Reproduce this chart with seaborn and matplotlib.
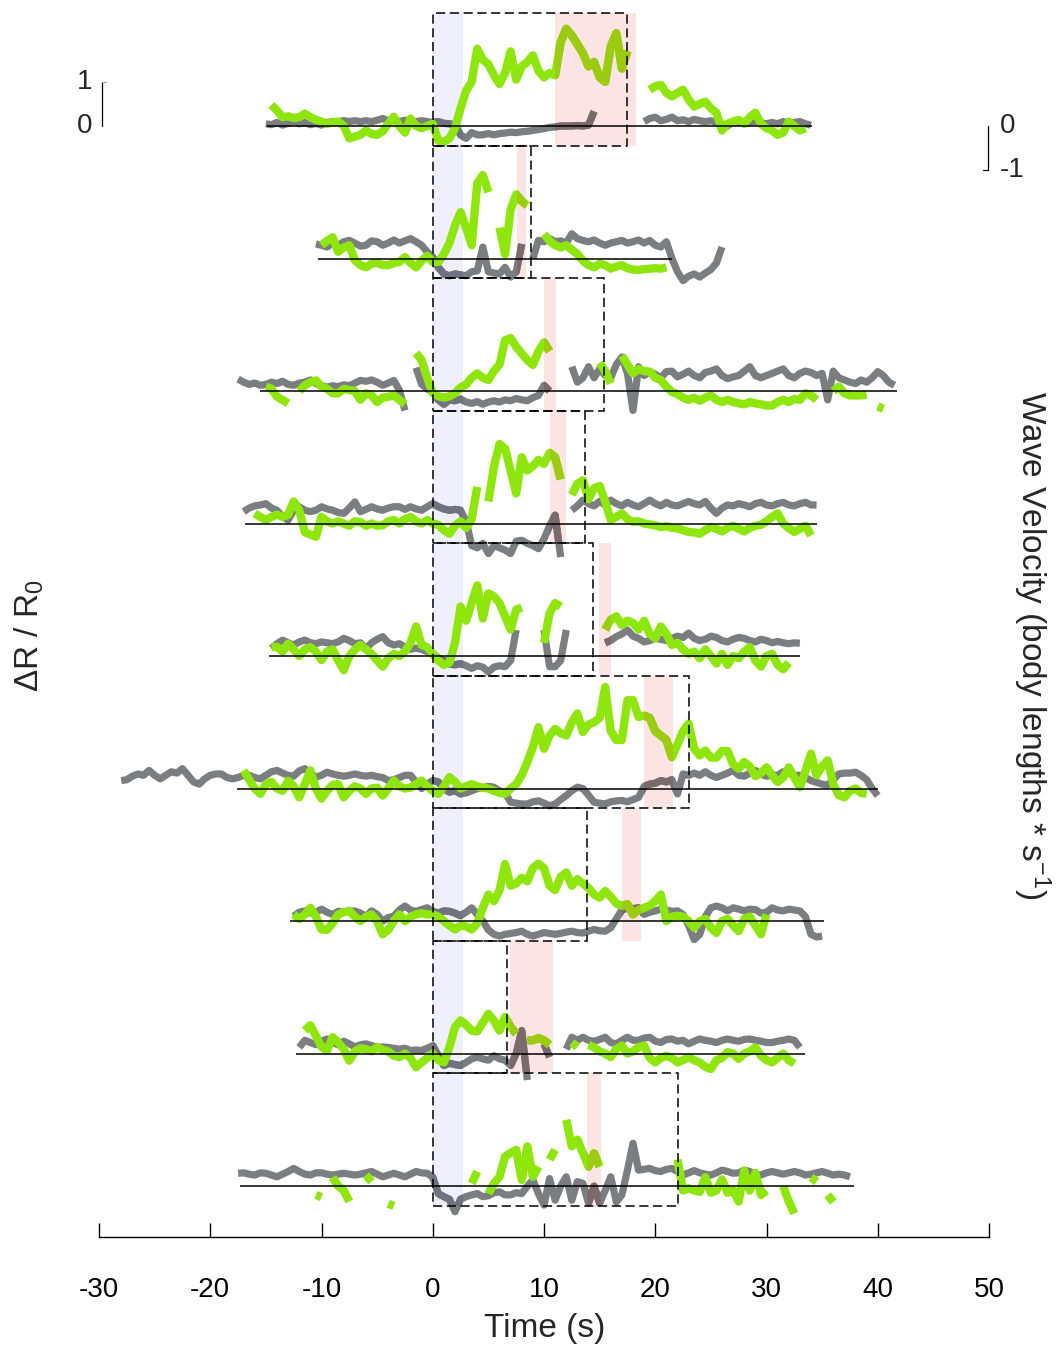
import numpy as np
import pandas as pd
import matplotlib
matplotlib.use("Agg")
import matplotlib.pyplot as plt
from matplotlib.patches import Rectangle
import seaborn as sns

sns.set_theme(style="white")
plt.rcParams['font.family'] = ['Liberation Sans', 'DejaVu Sans']
plt.rcParams['mathtext.default'] = 'regular'
plt.rcParams['axes.unicode_minus'] = False

nan = np.nan
dt = 0.5  # sampling step of every trace (s)

# ---------------- data (9 trials, top to bottom) ----------------
# dR/R0 (green) and wave velocity (gray), sampled every 0.5 s from the start time
g0_t0 = -14.5
g0 = [0.48, 0.35, 0.20, 0.22, 0.18, 0.20, 0.28, 0.20, 0.14, 0.10,
      0.05, 0.08, 0.10, 0.00, -0.28, -0.24, -0.20, -0.10, -0.18, -0.20,
      -0.12, 0.05, 0.21, 0.00, -0.15, 0.17, 0.00, -0.05, 0.00, 0.05,
      -0.33, -0.36, -0.28, -0.05, 0.40, 0.80, 1.00, 1.75, 1.50, 1.40,
      1.15, 0.95, 1.20, 1.69, 1.05, 1.35, 1.45, 1.60, 1.25, 1.10,
      1.20, 1.15, 1.90, 2.20, 2.05, 1.85, 1.65, 1.35, 1.45, 1.10,
      1.00, 1.80, 2.10, 1.30, 1.70, nan, nan, nan, 0.82, 0.90,
      0.93, 0.75, 0.67, 0.75, 0.82, 0.60, 0.44, 0.50, 0.55, 0.40,
      0.30, -0.10, 0.05, 0.10, 0.14, 0.05, 0.20, 0.30, 0.05, -0.05,
      -0.10, -0.20, -0.15, 0.10, 0.00, -0.10, -0.05]
v0_t0 = -15.0
v0 = [0.05, 0.03, 0.08, 0.02, 0.06, 0.10, 0.05, 0.08, 0.03, 0.06,
      0.02, 0.08, 0.10, 0.10, 0.12, 0.10, 0.12, 0.10, 0.12, 0.10,
      0.13, 0.17, 0.12, 0.15, 0.10, 0.13, 0.10, 0.10, 0.12, 0.10,
      0.08, 0.10, 0.06, 0.05, 0.02, -0.20, -0.28, -0.15, -0.20, -0.20,
      -0.17, -0.20, -0.17, -0.16, -0.14, -0.15, -0.13, -0.12, -0.10, -0.08,
      -0.06, -0.03, -0.02, 0.00, 0.00, 0.00, 0.01, 0.00, 0.02, 0.33,
      nan, nan, nan, nan, nan, nan, nan, nan, 0.10, 0.17,
      0.20, 0.12, 0.15, 0.20, 0.12, 0.14, 0.10, 0.15, 0.12, 0.10,
      0.12, 0.08, 0.05, 0.00, 0.10, 0.08, 0.05, 0.08, 0.10, 0.07,
      0.05, 0.08, 0.05, 0.10, 0.05, 0.08, 0.10, 0.05, 0.02]

g1_t0 = -10.0
g1 = [0.30, 0.40, 0.48, 0.15, 0.25, 0.30, -0.04, -0.15, -0.20, -0.12,
      -0.10, -0.15, -0.15, -0.10, -0.08, 0.03, -0.10, -0.20, -0.05, 0.06,
      -0.08, -0.08, 0.10, 0.35, 0.75, 1.05, 0.70, 0.30, 1.70, 1.89,
      1.50, nan, 0.70, 0.10, 1.10, 1.45, 1.30, 1.20, nan, nan,
      0.55, 0.40, 0.30, 0.25, 0.30, 0.20, 0.10, -0.05, -0.15, -0.20,
      -0.12, -0.15, -0.23, -0.18, -0.15, -0.22, -0.25, -0.26, -0.24, -0.23,
      -0.22, -0.23, -0.20]
v1_t0 = -10.5
v1 = [0.33, 0.30, 0.26, 0.35, 0.30, 0.38, 0.41, 0.35, 0.28, 0.30,
      0.40, 0.38, 0.30, 0.35, 0.42, 0.35, 0.40, 0.45, 0.38, 0.30,
      0.15, 0.03, -0.20, -0.35, -0.39, -0.35, -0.37, -0.39, -0.30, -0.28,
      0.26, -0.30, -0.33, -0.35, -0.20, -0.42, -0.30, 0.33, nan, 0.00,
      0.41, 0.38, 0.45, 0.38, 0.40, 0.35, 0.56, 0.45, 0.41, 0.38,
      0.42, 0.35, 0.30, 0.35, 0.38, 0.41, 0.35, 0.38, 0.42, 0.35,
      0.41, 0.30, 0.26, 0.38, 0.00, -0.30, -0.50, -0.40, -0.35, -0.42,
      -0.33, -0.25, -0.10, 0.26]

g2_t0 = -15.0
g2 = [0.10, 0.05, -0.13, -0.20, -0.28, nan, 0.00, 0.13, 0.20, 0.24,
      0.10, 0.05, -0.05, -0.05, 0.05, 0.02, 0.00, -0.20, -0.05, -0.10,
      -0.25, -0.15, -0.13, -0.10, -0.20, -0.30, nan, 0.86, 0.70, 0.30,
      -0.05, -0.12, -0.15, -0.12, -0.05, 0.08, 0.15, 0.30, 0.40, 0.30,
      0.25, 0.45, 0.60, 1.15, 1.20, 1.00, 0.85, 0.70, 0.59, 0.90,
      1.10, 0.90, nan, nan, nan, nan, nan, nan, nan, nan,
      0.64, 0.45, 0.17, nan, 0.80, 0.60, 0.40, 0.50, 0.45, 0.44,
      0.30, 0.25, 0.10, -0.02, -0.07, -0.15, -0.20, -0.15, -0.22, -0.15,
      -0.10, -0.20, -0.25, -0.20, -0.25, -0.28, -0.30, -0.25, -0.28, -0.30,
      -0.33, -0.33, -0.25, -0.20, -0.25, -0.18, -0.20, -0.05, -0.10, -0.20,
      nan, nan, 0.00, 0.10, -0.05, -0.10, -0.10, -0.10, -0.08, nan, -0.35, -0.40]
v2_t0 = -17.5
v2 = [0.27, 0.20, 0.15, 0.18, 0.13, 0.15, 0.20, 0.17, 0.22, 0.15,
      0.13, 0.18, 0.20, 0.25, 0.17, 0.12, 0.09, 0.12, 0.10, 0.14,
      0.12, 0.18, 0.24, 0.22, 0.25, 0.20, 0.13, 0.18, 0.24, 0.02,
      -0.44, nan, 0.53, 0.15, 0.05, -0.03, -0.20, -0.30, -0.20, -0.22,
      -0.18, -0.25, -0.28, -0.24, -0.30, -0.25, -0.22, -0.25, -0.20, -0.22,
      -0.17, -0.20, -0.22, -0.15, -0.10, 0.13, 0.00, nan, nan, nan,
      0.55, 0.20, 0.30, 0.55, 0.30, 0.50, 0.35, 0.30, 0.60, 0.77,
      0.40, -0.44, 0.55, 0.35, 0.44, 0.38, 0.30, 0.44, 0.45, 0.32,
      0.38, 0.45, 0.35, 0.30, 0.42, 0.45, 0.50, 0.35, 0.28, 0.32,
      0.35, 0.45, 0.55, 0.35, 0.30, 0.35, 0.40, 0.45, 0.50, 0.35,
      0.30, 0.40, 0.45, 0.42, 0.35, 0.40, -0.20, 0.45, 0.30, 0.25,
      0.20, 0.17, 0.25, 0.20, 0.30, 0.44, 0.35, 0.20, 0.13]

g3_t0 = -16.0
g3 = [0.23, 0.15, 0.08, 0.15, 0.20, 0.15, 0.20, 0.50, 0.30, -0.20,
      -0.25, -0.30, 0.15, 0.05, 0.00, 0.05, 0.00, -0.05, 0.05, 0.03,
      -0.05, 0.00, -0.05, -0.04, 0.05, 0.08, 0.00, 0.10, 0.15, 0.05,
      0.00, 0.08, 0.00, -0.03, -0.15, -0.23, -0.05, 0.05, -0.10, 0.10,
      0.83, nan, 0.50, 1.29, 1.80, 1.70, 1.20, 0.68, 1.50, 1.20,
      1.30, 1.44, 1.35, 1.60, 1.50, 1.00, nan, 0.65, 0.90, 0.98,
      0.55, 0.80, 0.85, 0.50, 0.08, 0.15, 0.23, 0.10, 0.04, 0.05,
      0.00, -0.02, -0.04, -0.08, -0.06, -0.10, -0.11, -0.15, -0.19, -0.20,
      -0.23, -0.15, -0.08, -0.12, -0.18, -0.10, -0.05, -0.12, -0.18, -0.10,
      -0.05, -0.03, 0.05, 0.15, 0.23, 0.00, -0.10, -0.19, -0.12, -0.05, -0.27]
v3_t0 = -17.0
v3 = [0.27, 0.35, 0.40, 0.42, 0.45, 0.35, 0.30, 0.15, 0.08, 0.30,
      0.38, 0.30, 0.27, 0.30, 0.38, 0.33, 0.30, 0.25, 0.23, 0.35,
      0.49, 0.27, 0.32, 0.38, 0.33, 0.30, 0.35, 0.38, 0.38, 0.32,
      0.38, 0.33, 0.30, 0.38, 0.45, 0.38, 0.33, 0.30, 0.32, 0.30,
      0.05, -0.50, -0.55, -0.45, -0.68, -0.50, -0.55, -0.60, -0.68, -0.40,
      -0.38, -0.45, -0.50, -0.57, -0.35, -0.05, 0.19, -0.76, nan, 0.30,
      0.40, 0.53, 0.45, 0.40, 0.50, 0.42, 0.53, 0.45, 0.40, 0.48,
      0.42, 0.38, 0.45, 0.53, 0.45, 0.40, 0.48, 0.42, 0.40, 0.45,
      0.50, 0.45, 0.42, 0.50, 0.35, 0.23, 0.35, 0.42, 0.40, 0.45,
      0.42, 0.38, 0.45, 0.48, 0.42, 0.40, 0.45, 0.48, 0.42, 0.40,
      0.45, 0.48, 0.42, 0.42]

g4_t0 = -14.5
g4 = [0.20, 0.21, 0.10, 0.28, 0.15, 0.00, 0.15, 0.20, 0.10, -0.09,
      0.10, 0.15, -0.10, -0.32, 0.00, 0.15, 0.25, 0.15, 0.05, -0.10,
      -0.24, -0.05, 0.05, 0.00, 0.10, 0.30, 0.67, 0.25, 0.20, 0.05,
      -0.10, -0.20, -0.15, 0.30, 1.12, 0.80, 1.20, 1.60, 0.85, 1.42,
      1.35, 1.20, 0.90, 0.60, 1.05, 1.10, nan, nan, nan, 0.30,
      0.97, 1.20, 1.12, nan, nan, nan, nan, nan, nan, nan,
      0.60, 0.82, 0.90, 0.70, 0.80, 0.75, 0.60, 0.80, 0.50, 0.40,
      0.67, 0.50, 0.25, 0.30, 0.15, 0.05, 0.10, -0.05, 0.15, 0.00,
      -0.17, 0.05, -0.20, 0.00, -0.05, 0.10, 0.20, -0.10, -0.24, 0.00,
      0.05, -0.20, -0.30, -0.15]
v4_t0 = -14.5
v4 = [0.17, 0.28, 0.36, 0.30, 0.25, 0.32, 0.36, 0.30, 0.28, 0.32,
      0.30, 0.28, 0.32, 0.40, 0.35, 0.28, 0.30, 0.17, 0.30, 0.38,
      0.44, 0.30, 0.25, 0.28, 0.20, 0.15, 0.18, 0.15, 0.10, 0.05,
      -0.05, -0.10, -0.18, -0.20, -0.17, -0.22, -0.28, -0.22, -0.25, -0.36,
      -0.25, -0.22, -0.24, -0.10, 0.59, nan, nan, nan, nan, 0.59,
      -0.24, -0.24, -0.10, 0.59, nan, nan, nan, nan, nan, nan,
      0.30, 0.35, 0.44, 0.50, 0.59, 0.45, 0.40, 0.32, 0.35, 0.40,
      0.38, 0.35, 0.40, 0.45, 0.42, 0.52, 0.40, 0.35, 0.38, 0.45,
      0.42, 0.35, 0.32, 0.38, 0.42, 0.40, 0.35, 0.32, 0.38, 0.35,
      0.30, 0.33, 0.30, 0.28, 0.30, 0.29]

g5_t0 = -17.0
g5 = [0.41, 0.20, 0.00, -0.12, 0.10, 0.15, 0.00, -0.05, 0.18, 0.05,
      -0.20, 0.10, 0.41, 0.00, -0.23, -0.05, 0.08, 0.10, -0.20, -0.05,
      0.05, 0.00, -0.12, 0.00, 0.02, -0.16, 0.00, 0.18, 0.05, 0.00,
      0.02, 0.10, 0.18, 0.05, -0.05, -0.12, 0.05, 0.26, 0.15, 0.00,
      0.05, 0.10, 0.05, 0.02, 0.00, -0.05, -0.10, -0.12, 0.00, 0.10,
      0.30, 0.60, 0.94, 1.39, 0.90, 1.20, 1.35, 1.25, 1.20, 1.50,
      1.70, 1.28, 1.45, 1.50, 1.60, 2.30, 1.30, 1.10, 1.10, 2.00,
      2.00, 1.62, 1.65, 1.60, 1.30, 1.20, 1.10, 0.71, 1.00, 1.30,
      1.47, 0.90, 0.75, 0.86, 0.70, 0.70, 0.85, 0.85, 0.55, 0.45,
      0.60, 0.50, 0.28, 0.35, 0.48, 0.30, 0.15, 0.25, 0.48, 0.25,
      0.03, 0.40, 0.79, 0.30, 0.50, 0.64, 0.10, -0.15, -0.20, -0.05,
      0.00, -0.10, -0.12]
v5_t0 = -28.0
v5 = [0.18, 0.20, 0.28, 0.33, 0.30, 0.41, 0.30, 0.22, 0.30, 0.38,
      0.35, 0.45, 0.30, 0.15, 0.10, 0.22, 0.30, 0.33, 0.33, 0.25,
      0.22, 0.25, 0.30, 0.30, 0.25, 0.22, 0.30, 0.38, 0.41, 0.35,
      0.30, 0.28, 0.40, 0.45, 0.35, 0.26, 0.30, 0.37, 0.33, 0.30,
      0.28, 0.30, 0.33, 0.30, 0.28, 0.30, 0.27, 0.25, 0.18, 0.20,
      0.25, 0.30, 0.30, 0.15, 0.00, 0.10, 0.18, 0.15, 0.00, -0.08,
      -0.05, -0.12, -0.10, -0.05, 0.00, 0.02, 0.05, 0.03, -0.05, -0.10,
      -0.31, -0.33, -0.35, -0.35, -0.30, -0.28, -0.33, -0.39, -0.35, -0.25,
      -0.16, -0.05, 0.03, 0.00, -0.15, -0.31, -0.33, -0.35, -0.30, -0.28,
      -0.27, -0.30, -0.25, -0.20, 0.05, 0.10, 0.12, 0.18, 0.15, 0.20,
      -0.12, 0.33, 0.30, 0.35, 0.30, 0.38, 0.30, 0.25, 0.30, 0.35,
      0.41, 0.30, 0.28, 0.35, 0.41, 0.33, 0.28, 0.30, 0.30, 0.38,
      0.35, 0.30, 0.30, 0.25, 0.18, 0.14, 0.10, 0.08, 0.20, 0.33,
      0.35, 0.35, 0.37, 0.30, 0.20, 0.00, -0.16]

g6_t0 = -12.5
g6 = [0.15, 0.05, 0.15, 0.30, 0.10, -0.19, -0.20, -0.05, 0.15, 0.20,
      0.23, 0.10, 0.00, 0.10, 0.15, 0.00, -0.30, -0.20, 0.00, 0.15,
      0.00, 0.10, 0.15, 0.18, 0.15, 0.15, 0.10, 0.00, -0.10, -0.19,
      -0.10, -0.12, -0.19, -0.05, 0.30, 0.60, 0.45, 0.70, 1.29, 0.80,
      0.85, 0.98, 0.90, 1.20, 1.30, 1.20, 0.80, 0.70, 1.00, 1.10,
      0.80, 0.95, 0.85, 0.75, 0.60, 0.53, 0.68, 0.55, 0.40, 0.35,
      0.38, 0.15, 0.25, 0.30, 0.35, 0.45, 0.60, 0.00, 0.10, 0.12,
      0.10, 0.00, -0.15, 0.00, 0.05, -0.15, -0.27, 0.00, 0.05, -0.10,
      -0.23, 0.05, 0.10, -0.10, -0.30, 0.15]
v6_t0 = -12.5
v6 = [0.11, 0.20, 0.23, 0.18, 0.20, 0.27, 0.20, 0.15, 0.22, 0.20,
      0.22, 0.23, 0.18, 0.11, 0.23, 0.15, 0.00, 0.08, 0.11, 0.25,
      0.34, 0.25, 0.22, 0.26, 0.30, 0.22, 0.18, 0.23, 0.22, 0.18,
      0.12, 0.20, 0.30, 0.15, 0.00, -0.20, -0.30, -0.34, -0.30, -0.28,
      -0.26, -0.23, -0.30, -0.34, -0.30, -0.26, -0.28, -0.30, -0.28, -0.25,
      -0.23, -0.26, -0.27, -0.23, -0.19, -0.22, -0.23, -0.15, 0.05, 0.25,
      0.30, 0.28, 0.30, 0.15, 0.20, 0.23, 0.27, 0.25, 0.22, 0.23,
      0.15, -0.10, -0.42, -0.30, 0.10, 0.30, 0.34, 0.30, 0.23, 0.30,
      0.27, 0.23, 0.27, 0.26, 0.18, 0.20, 0.30, 0.25, 0.23, 0.27,
      0.25, 0.23, 0.10, -0.30, -0.36, -0.34]

g7_t0 = -11.5
g7 = [0.52, 0.64, 0.40, 0.15, 0.07, 0.37, 0.25, 0.10, -0.16, 0.05,
      0.12, 0.10, 0.05, 0.15, 0.08, 0.05, -0.05, -0.08, 0.00, -0.10,
      -0.31, -0.20, -0.10, 0.00, -0.15, -0.20, 0.14, 0.60, 0.75, 0.65,
      0.52, 0.50, 0.70, 0.90, 0.75, 0.52, 0.83, 0.60, 0.45, nan,
      0.30, 0.30, 0.35, 0.30, 0.20, nan, nan, nan, 0.25, 0.15,
      nan, 0.20, 0.14, 0.05, 0.00, -0.08, 0.10, 0.18, 0.00, 0.05,
      0.15, 0.18, -0.10, -0.20, -0.10, -0.05, -0.10, -0.20, -0.15, -0.08,
      -0.15, -0.20, -0.30, -0.35, -0.15, -0.10, 0.03, 0.00, -0.12, 0.00,
      0.05, 0.14, -0.05, -0.15, -0.20, -0.10, 0.00, -0.15, -0.23]
v7_t0 = -12.0
v7 = [0.14, 0.30, 0.25, 0.20, 0.28, 0.33, 0.25, 0.20, 0.28, 0.22,
      0.15, 0.20, 0.22, 0.18, 0.14, 0.15, 0.14, 0.12, 0.10, 0.12,
      0.07, 0.08, 0.07, 0.12, 0.18, -0.05, -0.27, -0.22, -0.25, -0.27,
      -0.20, -0.12, -0.08, -0.12, -0.15, -0.05, -0.12, -0.15, -0.27, 0.00,
      0.52, -0.60, nan, nan, 0.22, -0.08, nan, nan, 0.10, 0.37,
      0.30, 0.37, 0.30, 0.28, 0.32, 0.37, 0.25, 0.22, 0.30, 0.37,
      0.30, 0.30, 0.35, 0.37, 0.28, 0.25, 0.32, 0.33, 0.28, 0.30,
      0.22, 0.28, 0.33, 0.30, 0.28, 0.25, 0.30, 0.33, 0.30, 0.28,
      0.32, 0.33, 0.30, 0.28, 0.25, 0.25, 0.28, 0.30, 0.33, 0.30,
      0.14]

g8_t0 = -10.5
g8 = [-0.20, -0.25, nan, 0.20, 0.00, -0.10, -0.35, nan, nan, 0.25,
      0.10, nan, nan, -0.40, -0.45, nan, nan, nan, nan, nan,
      nan, nan, nan, nan, nan, nan, nan, nan, 0.06, 0.33,
      nan, -0.17, 0.06, 0.21, 0.67, 0.75, 0.82, 0.14, 0.90, 0.21,
      0.44, nan, 0.60, 0.82, nan, 1.50, 0.90, 1.05, 0.75, 0.44,
      0.74, 0.44, nan, nan, nan, nan, nan, nan, nan, nan,
      nan, nan, nan, nan, nan, 0.60, -0.10, -0.05, -0.10, -0.13,
      0.20, -0.15, -0.10, 0.15, -0.15, -0.10, -0.35, 0.35, -0.10, 0.30,
      -0.20, -0.10, nan, nan, 0.00, -0.35, -0.62, nan, nan, 0.20,
      0.10, nan, -0.20, -0.36]
v8_t0 = -17.5
v8 = [0.29, 0.30, 0.27, 0.25, 0.30, 0.29, 0.25, 0.21, 0.27, 0.33,
      0.40, 0.33, 0.27, 0.25, 0.30, 0.30, 0.27, 0.25, 0.27, 0.29,
      0.27, 0.25, 0.27, 0.30, 0.33, 0.27, 0.21, 0.25, 0.29, 0.25,
      0.21, 0.27, 0.33, 0.30, 0.29, 0.20, -0.17, -0.24, -0.30, -0.58,
      -0.30, -0.24, -0.20, -0.17, -0.24, -0.22, -0.15, -0.13, -0.20, -0.20,
      -0.15, -0.17, 0.00, 0.14, -0.17, -0.43, 0.17, -0.32, 0.00, 0.21,
      -0.32, 0.10, 0.06, -0.39, 0.00, -0.39, -0.10, 0.21, -0.36, -0.20,
      0.36, 0.97, 0.36, 0.38, 0.40, 0.35, 0.33, 0.38, 0.40, 0.33,
      0.25, 0.30, 0.35, 0.30, 0.27, 0.25, 0.30, 0.36, 0.33, 0.29,
      0.30, 0.36, 0.33, 0.27, 0.25, 0.30, 0.33, 0.30, 0.27, 0.30,
      0.33, 0.30, 0.25, 0.27, 0.30, 0.33, 0.29, 0.25, 0.27, 0.25, 0.21]

green = [g0, g1, g2, g3, g4, g5, g6, g7, g8]
green_t0 = [g0_t0, g1_t0, g2_t0, g3_t0, g4_t0, g5_t0, g6_t0, g7_t0, g8_t0]
gray = [v0, v1, v2, v3, v4, v5, v6, v7, v8]
gray_t0 = [v0_t0, v1_t0, v2_t0, v3_t0, v4_t0, v5_t0, v6_t0, v7_t0, v8_t0]

# baseline extent, end of the dashed window and pink epoch per trial (s)
base_start = [-14.9, -10.3, -15.5, -16.9, -14.7, -17.6, -12.8, -12.3, -17.3]
base_end = [34.1, 21.5, 41.7, 34.5, 33.0, 40.0, 35.2, 33.5, 37.9]
box_end = [17.5, 8.8, 15.4, 13.7, 14.4, 23.0, 13.9, 6.7, 22.0]
pink_start = [11.0, 7.6, 10.0, 10.5, 14.9, 19.0, 17.0, 6.9, 13.9]
pink_end = [18.3, 8.4, 11.1, 12.0, 16.0, 21.6, 18.7, 10.8, 15.1]
stim_end = 2.75

xticks = [-30, -20, -10, 0, 10, 20, 30, 40, 50]

# ---------------- styling ----------------
GREEN = '#8ee60c'
GREEN_DK = '#9ccb12'
GRAY = '#7b7e81'
GRAY_DK = '#7a6a6c'
GRAY_BL = '#70727f'
PINK = '#fde4e4'
BLUE = '#f0f0fd'
LW_GREEN = 6.0
LW_GRAY = 5.2
step = 3.0      # vertical spacing between trials
lo, hi = -0.45, 2.55   # window box relative to baseline


def draw(ax, t0, vals, off, color, lw, z, clip=None):
    y = np.array(vals, dtype=float)
    df = pd.DataFrame({"t": t0 + dt * np.arange(len(y)), "y": off + y})
    df["seg"] = df["y"].isna().cumsum()
    df = df.dropna()
    n = len(ax.lines)
    sns.lineplot(data=df, x="t", y="y", units="seg", estimator=None, sort=False,
                 color=color, linewidth=lw, zorder=z, ax=ax, legend=False)
    for ln in ax.lines[n:]:
        ln.set_linewidth(lw)
        ln.set_solid_capstyle("butt")
        ln.set_solid_joinstyle("round")
        if clip is not None:
            ln.set_clip_path(clip)


fig = plt.figure(figsize=(10.58, 13.48), dpi=100)
ax = fig.add_axes([99 / 1058, 1 - 1237 / 1348, 890 / 1058, 1237 / 1348])
ppu = 44.17  # pixels per unit
ax.set_xlim(-30, 50)
ax.set_ylim(-(1237 - 126) / ppu, 126 / ppu)

# stimulus band over all trials
blue = Rectangle((0, -step * 8 + lo), stim_end, step * 8 + hi - lo,
                 facecolor=BLUE, edgecolor='none', zorder=1)
ax.add_patch(blue)

for i in range(9):
    off = -step * i
    pink = Rectangle((pink_start[i], off + lo), pink_end[i] - pink_start[i], hi - lo,
                     facecolor=PINK, edgecolor='none', zorder=1)
    ax.add_patch(pink)
    draw(ax, gray_t0[i], gray[i], off, GRAY, LW_GRAY, 2)
    draw(ax, green_t0[i], green[i], off, GREEN, LW_GREEN, 3)
    # darker look where lines cross the shaded epochs
    draw(ax, gray_t0[i], gray[i], off, GRAY_DK, LW_GRAY, 2.5, clip=pink)
    draw(ax, green_t0[i], green[i], off, GREEN_DK, LW_GREEN, 3.5, clip=pink)
    draw(ax, gray_t0[i], gray[i], off, GRAY_BL, LW_GRAY, 2.5, clip=blue)
    ax.hlines(off, base_start[i], base_end[i], color='black', lw=1.1, zorder=4)
    ax.add_patch(Rectangle((0, off + lo), box_end[i], hi - lo, fill=False,
                           edgecolor='black', lw=1.1, ls=(0, (6, 3)), zorder=5))

# scale bars
ax.plot([-29.75, -29.75], [0, 1], color='black', lw=0.9, zorder=5)
ax.plot([-29.75, -29.35], [1, 1], color='0.65', lw=0.9, zorder=5)
ax.text(-30.6, 1, '1', ha='right', va='center', fontsize=20)
ax.text(-30.6, 0, '0', ha='right', va='center', fontsize=20)
ax.plot([49.9, 49.9], [0, -1], color='black', lw=0.9, zorder=5, clip_on=False)
ax.plot([49.5, 49.9], [-1, -1], color='black', lw=0.9, zorder=5, clip_on=False)
ax.text(51.0, 0, '0', ha='left', va='center', fontsize=20)
ax.text(51.0, -1, '-1', ha='left', va='center', fontsize=20)

# axes decoration
for s in ['top', 'left', 'right']:
    ax.spines[s].set_visible(False)
ax.spines['bottom'].set_color('black')
ax.spines['bottom'].set_linewidth(1.0)
ax.set_xticks(xticks)
ax.set_xticklabels([str(x) for x in xticks])
ax.set_yticks([])
ax.tick_params(axis='x', direction='in', length=10, width=1.0, pad=29,
               labelsize=20, colors='black', bottom=True)
ax.set_xlabel('')
ax.set_ylabel('')
ax.patch.set_alpha(0)

fig.text(0.5145, 1 - 1328 / 1348, 'Time (s)', ha='center', va='center', fontsize=24)
fig.text(0.028, 1 - 636 / 1348, r'ΔR / R$_0$', ha='center', va='center',
         rotation=90, fontsize=24)
fig.text(0.975, 1 - 645 / 1348, r'Wave Velocity (body lengths * s$^{-1}$)',
         ha='center', va='center', rotation=270, fontsize=24)

fig.savefig('out.png', dpi=100, facecolor='white')
